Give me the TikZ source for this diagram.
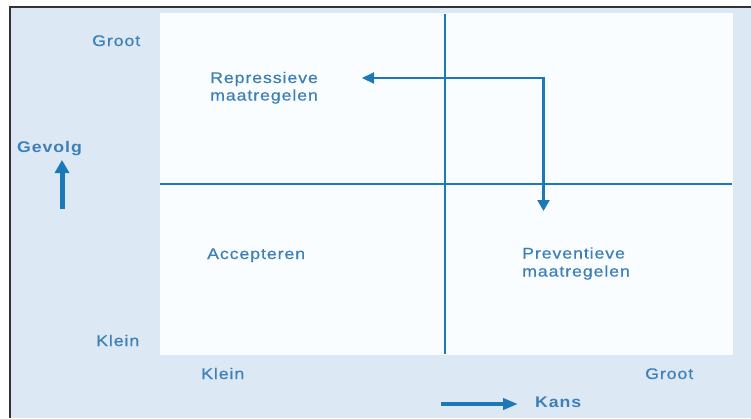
\documentclass[tikz,border=0pt]{standalone}
\usepackage{fontspec}
\setmainfont{Liberation Sans}[LetterSpace=6,FakeStretch=1.15,UprightFeatures={FakeBold=0.6}]
\usetikzlibrary{arrows.meta}
\definecolor{bgblue}{HTML}{DDE8F5}
\definecolor{panel}{HTML}{FAFDFF}
\definecolor{lineblue}{HTML}{1A79B6}
\definecolor{txtblue}{HTML}{3D80B7}
\definecolor{frame}{HTML}{333333}
\tikzset{
  lbl/.style={inner sep=0pt, anchor=base west, text=txtblue, font=\fontsize{15.4bp}{18bp}\selectfont},
  blbl/.style={lbl, font=\fontsize{15.4bp}{18bp}\selectfont\bfseries},
  axisline/.style={draw=lineblue, line width=2.2bp},
  conn/.style={draw=lineblue, line width=2.2bp, {Triangle[width=11bp,length=12bp]}-{Triangle[width=12bp,length=11bp]}},
  bigarrow/.style={draw=lineblue, -{Triangle[width=14bp,length=13bp]}}
}
\begin{document}
\begin{tikzpicture}[x=1bp,y=-1bp]
\useasboundingbox (0,0) rectangle (751,418);
\fill[white] (0,0) rectangle (751,418);
\fill[bgblue] (10,7) rectangle (751,418);
\draw[frame, line width=2bp] (10,418) -- (10,7) -- (751,7);
\fill[panel] (160,13) rectangle (733,355);
% axes
\coordinate (vtop) at (445,14);
\coordinate (vbot) at (445,354);
\coordinate (hl) at (160,184);
\coordinate (hr) at (732,184);
\draw[axisline] (vtop) -- (vbot);
\draw[axisline] (hl) -- (hr);
% connector arrow
\coordinate (lt) at (362,78);
\coordinate (dn) at (543.5,211);
\draw[conn] (lt) -| (dn);
% labels
\node[lbl] (grooty) at (92,46) {Groot};
\node[lbl] (kleiny) at (96,346) {Klein};
\node[lbl] (kleinx) at (201,379) {Klein};
\node[lbl] (grootx) at (645,379) {Groot};
\node[blbl] (gevolg) at (17,152) {Gevolg};
\node[blbl] (kans) at (535,407.5) {Kans};
\node[lbl] (rep1) at (210,83) {Repressieve};
\node[lbl] (rep2) at (210,100.5) {maatregelen};
\node[lbl] (acc) at (207,259) {Accepteren};
\node[lbl] (prev1) at (522,258.5) {Preventieve};
\node[lbl] (prev2) at (522,276.5) {maatregelen};
% axis arrows
\coordinate (gb) at (62,209);
\coordinate (gt) at (62,160);
\draw[bigarrow, line width=5bp] (gb) -- (gt);
\coordinate (kl) at (441,404);
\coordinate (kr) at (518,404);
\draw[bigarrow, line width=4bp, -{Triangle[width=11bp,length=15bp]}] (kl) -- (kr);
\end{tikzpicture}
\end{document}
